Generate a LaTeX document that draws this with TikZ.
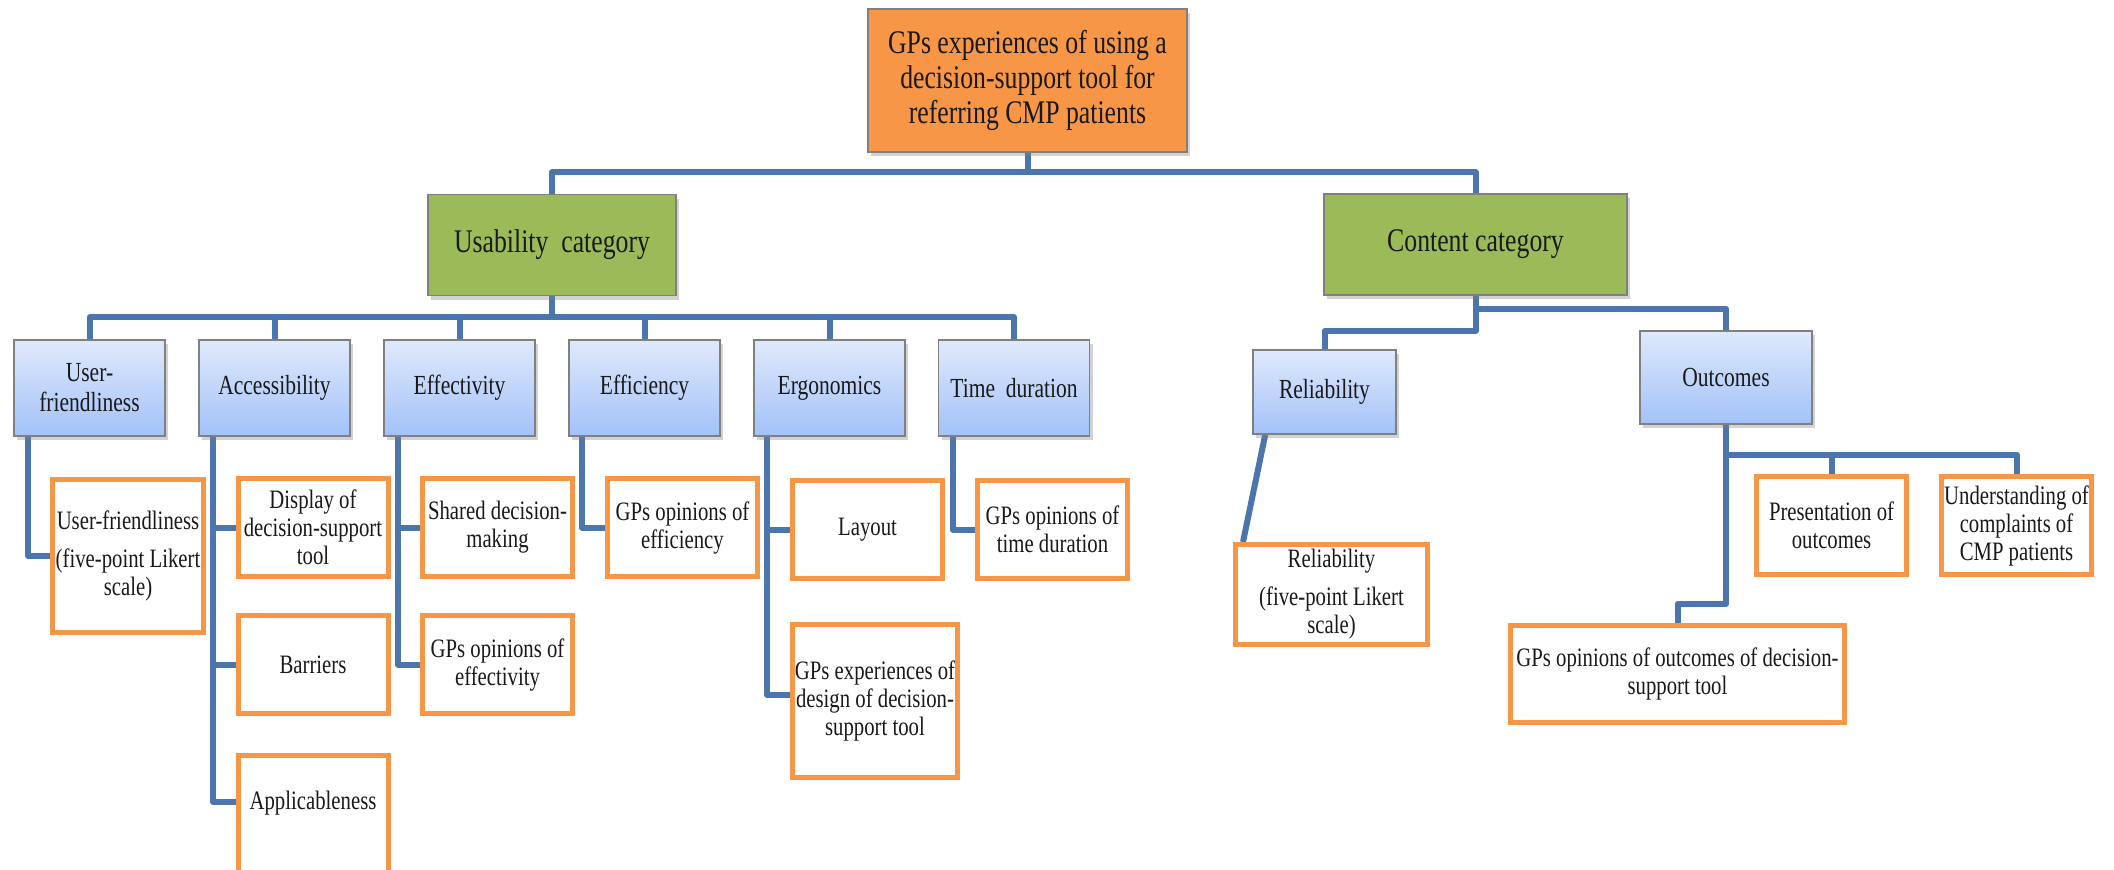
\documentclass[tikz,border=0pt]{standalone}
\usepackage{fontspec}
\setmainfont{Liberation Serif}[FakeStretch=0.78]
\usetikzlibrary{positioning,shadows,backgrounds}

\definecolor{toporange}{RGB}{247,150,70}
\definecolor{catgreen}{RGB}{155,187,89}
\definecolor{themetop}{RGB}{223,233,252}
\definecolor{themebot}{RGB}{163,194,248}
\definecolor{codeorange}{RGB}{247,150,70}
\definecolor{linkblue}{RGB}{74,118,173}
\definecolor{boxgray}{RGB}{128,128,128}

\begin{document}
\begin{tikzpicture}[x=0.5pt,y=-0.5pt]
                    \tikzstyle{every node}=[rectangle,align=center,inner sep=1pt,text=black!90]
                    \tikzstyle{boxed}=[draw=boxgray,line width=0.8pt,drop shadow={opacity=0.35,shadow xshift=1.5pt,shadow yshift=-2pt}]
                    \tikzstyle{topic}=[boxed,fill=toporange,minimum width=159.5pt,minimum height=71.5pt,font=\fontsize{16.5}{17.5}\selectfont]
                    \tikzstyle{category}=[boxed,fill=catgreen,minimum height=50.5pt,font=\fontsize{16.5}{17.5}\selectfont]
                    \tikzstyle{theme}=[boxed,top color=themetop,bottom color=themebot,minimum width=75.5pt,minimum height=48pt,font=\fontsize{13.8}{15}\selectfont]
                    \tikzstyle{code}=[draw=codeorange,line width=2.5pt,fill=white,minimum width=75pt,minimum height=49pt,font=\fontsize{13.3}{14}\selectfont]
                    \tikzstyle{link}=[draw=linkblue,line width=3pt,line join=round]
                    {
                        \useasboundingbox (0,0) rectangle (2114,869);

                        \node[topic] (gps) at (1027.5,80.5) {GPs experiences of using a\\decision-support tool for\\referring CMP patients};
                        \node[category,minimum width=124pt] (usab) at (552,245) {Usability\ \ category};
                        \node[category,minimum width=151.5pt] (cont) at (1475.5,244.5) {Content category};

                        \node[theme] (uf) at (89.5,388) {User-\\friendliness};
                        \node[theme] (acc) at (274.5,388) {Accessibility};
                        \node[theme] (eff) at (459.5,388) {Effectivity};
                        \node[theme] (effi) at (644.5,388) {Efficiency};
                        \node[theme] (ergo) at (829.5,388) {Ergonomics};
                        \node[theme] (dur) at (1014,388) {Time\ \ duration};
                        \node[theme,minimum width=71.5pt,minimum height=42pt] (rel) at (1324.5,392) {Reliability};
                        \node[theme,minimum width=86pt,minimum height=46.5pt] (outc) at (1726,377.5) {Outcomes};

                        \node[code,minimum width=75.5pt,minimum height=76.5pt] (ufl) at (128,556) {User-friendliness\\[5pt](five-point Likert\\scale)};
                        \node[code] (disp) at (313,527.5) {Display of\\decision-support\\tool};
                        \node[code] (barr) at (313,664.5) {Barriers};
                        \node[code,minimum height=61pt,text height=8pt,text depth=15pt] (appl) at (313,816.5) {Applicableness};
                        \node[code] (shdm) at (497.5,527.5) {Shared decision-\\making};
                        \node[code] (gpeff) at (497.5,664.5) {GPs opinions of\\effectivity};
                        \node[code] (gpeffi) at (682.5,527.5) {GPs opinions of\\efficiency};
                        \node[code] (lay) at (867.5,529.5) {Layout};
                        \node[code,minimum width=82.5pt,minimum height=76.5pt] (dsgn) at (875,701) {GPs experiences of\\design of decision-\\support tool};
                        \node[code] (gpdur) at (1052.5,529.5) {GPs opinions of\\time duration};
                        \node[code,minimum width=96pt,minimum height=50pt] (rell) at (1331.5,594.5) {Reliability\\[5pt](five-point Likert\\scale)};
                        \node[code] (pres) at (1831.5,525.5) {Presentation of\\outcomes};
                        \node[code] (und) at (2016.5,525.5) {Understanding of\\complaints of\\CMP patients};
                        \node[code,minimum width=167pt,minimum height=48.5pt] (gpout) at (1677.5,674) {GPs opinions of outcomes of decision-\\support tool};

                        \begin{scope}[on background layer]
                            \fill[white] (0,0) rectangle (2114,869);
                            \draw[link] (gps.south) -- ++(0,19.5) -| (usab.north)
                                        (gps.south) -- ++(0,19.5) -| (cont.north);
                            \foreach \t in {uf,acc,eff,effi,ergo,dur}
                                \draw[link] (usab.south) -- ++(0,21) -| (\t.north);
                            \draw[link] (cont.south) -- ++(0,13) -| (outc.north)
                                        (cont.south) -- ++(0,35) -| (rel.north);

                            \draw[link] ([xshift=7.5pt]uf.south west) |- (ufl.west);
                            \draw[link] ([xshift=7.5pt]acc.south west) |- (disp.west)
                                        ([xshift=7.5pt]acc.south west) |- (barr.west)
                                        ([xshift=7.5pt]acc.south west) |- ([yshift=7.25pt]appl.west);
                            \draw[link] ([xshift=7.5pt]eff.south west) |- (shdm.west)
                                        ([xshift=7.5pt]eff.south west) |- (gpeff.west);
                            \draw[link] ([xshift=7pt]effi.south west) |- (gpeffi.west);
                            \draw[link] ([xshift=7pt]ergo.south west) |- (lay.west)
                                        ([xshift=7pt]ergo.south west) |- ([yshift=3pt]dsgn.west);
                            \draw[link] ([xshift=7.5pt]dur.south west) |- (gpdur.west);
                            \draw[link] ([xshift=6.5pt]rel.south west) -- ([xshift=5pt]rell.north west);
                            \draw[link] (outc.south) -- ++(0,30) -| (pres.north)
                                        (outc.south) -- ++(0,30) -| (und.north)
                                        (outc.south) -- ++(0,179) -| (gpout.north);
                        \end{scope}
                    }
\end{tikzpicture}
\end{document}
